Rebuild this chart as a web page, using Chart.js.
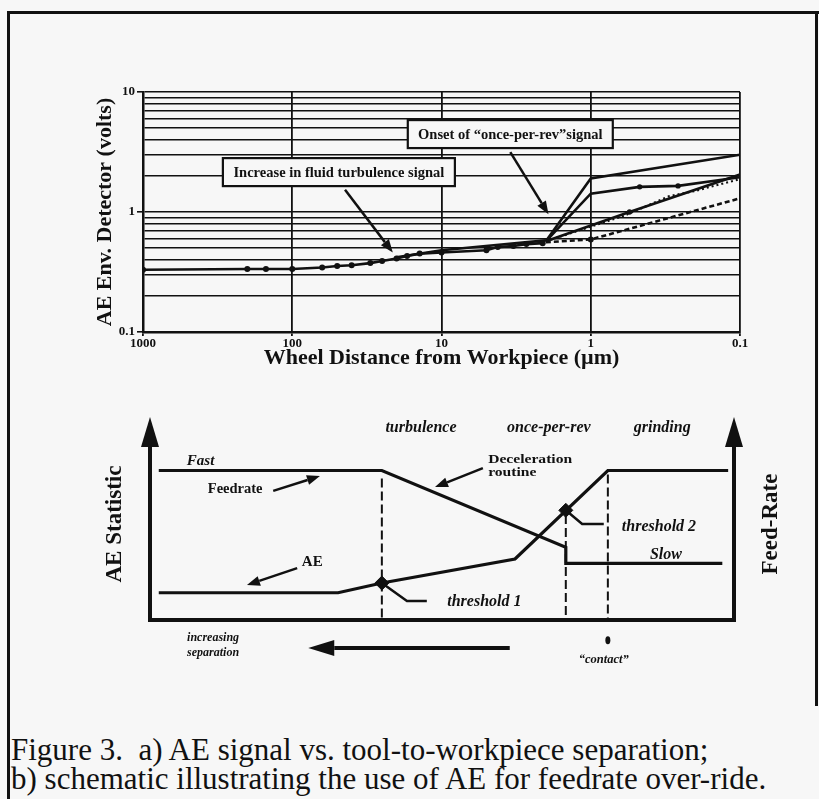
<!DOCTYPE html>
<html>
<head>
<meta charset="utf-8">
<script src="https://cdn.jsdelivr.net/npm/chart.js@4.4.1/dist/chart.umd.min.js"></script>
<style>
  html, body { margin: 0; padding: 0; background: #f7f7f7; }
  #page { position: relative; width: 819px; height: 799px; overflow: hidden; }
  #frame { position: absolute; left: 7px; top: 11px; width: 820px; height: 800px;
           border-left: 3px solid #111; border-top: 3px solid #111; }
  #frameRight { position: absolute; left: 815px; top: 11px; width: 3px; height: 695px; background: #111; }
  #topChart { position: absolute; left: 0; top: 0; }
  #bottomChart { position: absolute; left: 0; top: 400px; }
  #caption { position: absolute; left: 11px; top: 735px; font-family: 'Liberation Serif', serif;
             font-size: 31px; line-height: 29px; color: #111; white-space: nowrap; }
</style>
</head>
<body>
<div id="page">
  <div id="frame"></div>
  <div id="frameRight"></div>
  <canvas id="topChart" width="819" height="380"></canvas>
  <canvas id="bottomChart" width="819" height="300"></canvas>
  <div id="caption">Figure 3.&nbsp; a) AE signal vs. tool-to-workpiece separation;<br>b) schematic illustrating the use of AE for feedrate over-ride.</div>
</div>
<script>
// ---- a) AE signal vs. wheel distance (log-log) ----
const xTicks = [1000, 100, 10, 1, 0.1];
const xTickLabels = ['1000', '100', '10', '1', '0.1'];
const yTicks = [0.1, 0.2, 0.3, 0.4, 0.5, 0.6, 0.7, 0.8, 0.9, 1, 2, 3, 4, 5, 6, 7, 8, 9, 10];
const yMajor = [10, 1, 0.1];
const yTickLabels = ['10', '1', '0.1'];

// approach, before contact (measured points)
const approachDist  = [1000, 200, 150, 100, 63, 50, 40, 30, 25, 20, 17, 14, 10, 5, 4.2, 3.3, 2.7, 2.1];
const approachVolts = [0.33, 0.335, 0.335, 0.335, 0.345, 0.355, 0.36, 0.375, 0.39, 0.41, 0.43, 0.45, 0.46, 0.48, 0.51, 0.52, 0.54, 0.55];
const upperDist  = [20, 10, 2];
const upperVolts = [0.42, 0.48, 0.58];
// runs after onset of once-per-rev signal
const runADist = [2, 1, 0.1];
const runAVolts = [0.57, 1.9, 3.0];
const runBDist = [2, 1, 0.47, 0.26, 0.1];
const runBVolts = [0.57, 1.42, 1.62, 1.65, 1.95];
const runCDist = [2, 0.55, 0.1];
const runCVolts = [0.57, 1.0, 2.05];
const runDDist = [2, 1, 0.1];
const runDVolts = [0.56, 0.59, 1.3];
const runEDist = [2, 0.6, 0.3, 0.2, 0.1];
const runEVolts = [0.57, 0.93, 1.35, 1.5, 1.88];

// ---- b) schematic ----
const feedrateX = [1.5, 39.7, 71.2, 71.2, 98];
const feedrateY = [74, 74, 36, 28, 28];
const aeX = [1.5, 32.2, 39.7, 62.5, 78.4, 99];
const aeY = [13.5, 13.5, 18.3, 30.2, 74, 74];
const eventX = [39.7, 71.2, 78.4];      // turbulence, once-per-rev, contact
const eventTop = [70, 52, 72];
const thresholdX = [39.7, 71.2];
const thresholdY = [18.3, 54.3];
const regionNames = ['turbulence', 'once-per-rev', 'grinding'];
const regionX = [46.4, 68.3, 87.7];

const ink = '#111';
const serif = "'Liberation Serif', 'DejaVu Serif', serif";
const pts = (xs, ys) => xs.map((x, i) => ({x: x, y: ys[i]}));

function arrow(ctx, x1, y1, x2, y2, w, len, half) {
  const a = Math.atan2(y2 - y1, x2 - x1);
  const bx = x2 - Math.cos(a) * len, by = y2 - Math.sin(a) * len;
  ctx.lineWidth = w;
  ctx.beginPath(); ctx.moveTo(x1, y1); ctx.lineTo(bx, by); ctx.stroke();
  ctx.beginPath();
  ctx.moveTo(x2, y2);
  ctx.lineTo(bx + Math.sin(a) * half, by - Math.cos(a) * half);
  ctx.lineTo(bx - Math.sin(a) * half, by + Math.cos(a) * half);
  ctx.closePath(); ctx.fill();
}

const topNotes = {
  id: 'topNotes',
  afterDraw(chart) {
    const {ctx, scales: {x, y}} = chart;
    const boxes = [
      {text: 'Increase in fluid turbulence signal', cx: 48.7, cy: 2.15, w: 232, tail: [44.3, 1.53], tip: [21.2, 0.46]},
      {text: 'Onset of \u201conce-per-rev\u201dsignal', cx: 3.46, cy: 4.46, w: 205, tail: [3.46, 3.16], tip: [1.92, 0.96]}
    ];
    ctx.save();
    ctx.strokeStyle = ink; ctx.fillStyle = ink;
    boxes.forEach(b => {
      const px = x.getPixelForValue(b.cx), py = y.getPixelForValue(b.cy);
      ctx.fillStyle = '#f7f7f7';
      ctx.fillRect(px - b.w / 2, py - 14, b.w, 28);
      ctx.lineWidth = 2.2;
      ctx.strokeRect(px - b.w / 2, py - 14, b.w, 28);
      ctx.fillStyle = ink;
      ctx.font = 'bold 14.5px ' + serif;
      ctx.textAlign = 'center'; ctx.textBaseline = 'middle';
      ctx.fillText(b.text, px, py + 1);
      arrow(ctx, x.getPixelForValue(b.tail[0]), y.getPixelForValue(b.tail[1]),
            x.getPixelForValue(b.tip[0]), y.getPixelForValue(b.tip[1]), 2.5, 13, 5);
    });
    ctx.restore();
  }
};

const solid = {showLine: true, borderColor: ink, borderWidth: 2.6, pointRadius: 0, pointBackgroundColor: ink, pointBorderWidth: 0};

new Chart(document.getElementById('topChart'), {
  type: 'scatter',
  data: {
    datasets: [
      Object.assign({}, solid, {data: pts(approachDist, approachVolts), pointRadius: 3}),
      Object.assign({}, solid, {data: pts(upperDist, upperVolts)}),
      Object.assign({}, solid, {data: pts(runADist, runAVolts)}),
      Object.assign({}, solid, {data: pts(runBDist, runBVolts), pointRadius: [0, 0, 2.7, 2.7, 0]}),
      Object.assign({}, solid, {data: pts(runCDist, runCVolts), pointRadius: [0, 2.7, 0]}),
      Object.assign({}, solid, {data: pts(runDDist, runDVolts), borderDash: [5, 3], pointRadius: [0, 3, 0]}),
      Object.assign({}, solid, {data: pts(runEDist, runEVolts), borderDash: [2, 3], borderWidth: 2.2})
    ]
  },
  options: {
    responsive: false, animation: false, devicePixelRatio: 1,
    layout: {padding: {left: 90, top: 92, right: 79, bottom: 0}},
    plugins: {legend: {display: false}, tooltip: {enabled: false}},
    scales: {
      x: {
        type: 'logarithmic', reverse: true, min: 0.1, max: 1000,
        afterBuildTicks: s => { s.ticks = xTicks.map(v => ({value: v})); },
        afterFit: s => { s.height = 48; },
        ticks: {
          autoSkip: false, maxRotation: 0, padding: 0, color: ink,
          font: {family: serif, size: 13, weight: 'bold'},
          callback: v => { const i = xTicks.indexOf(v); return i >= 0 ? xTickLabels[i] : ''; }
        },
        grid: {color: ink, lineWidth: 1.8, tickLength: 4, tickColor: ink},
        border: {color: ink, width: 2.5},
        title: {display: true, text: 'Wheel Distance from Workpiece (\u00b5m)', color: ink,
                font: {family: serif, size: 22, weight: 'bold'}, padding: {top: 0, bottom: 8}}
      },
      y: {
        type: 'logarithmic', min: 0.1, max: 10,
        afterBuildTicks: s => { s.ticks = yTicks.map(v => ({value: v})); },
        afterFit: s => { s.width = 53; },
        ticks: {
          autoSkip: false, padding: 2, color: ink,
          font: {family: serif, size: 13, weight: 'bold'},
          callback: v => { const i = yMajor.indexOf(v); return i >= 0 ? yTickLabels[i] : ''; }
        },
        grid: {color: ink, lineWidth: 1.6, tickLength: 6,
               tickColor: c => yMajor.indexOf(c.tick.value) >= 0 ? ink : 'rgba(0,0,0,0)'},
        border: {color: ink, width: 2.5},
        title: {display: true, text: 'AE Env. Detector (volts)', color: ink,
                font: {family: serif, size: 22, weight: 'bold'}, padding: {top: 2, bottom: 0}}
      }
    }
  },
  plugins: [topNotes]
});

// ---- schematic annotations ----
const schematicNotes = {
  id: 'schematicNotes',
  afterDraw(chart) {
    const {ctx, scales: {x, y}} = chart;
    const X = v => x.getPixelForValue(v), Y = v => y.getPixelForValue(v);
    ctx.save();
    ctx.strokeStyle = ink; ctx.fillStyle = ink; ctx.lineCap = 'butt';

    // axes with arrow heads
    ctx.lineWidth = 4;
    ctx.beginPath(); ctx.moveTo(X(0) - 2, Y(0)); ctx.lineTo(X(100) + 2, Y(0)); ctx.stroke();
    arrow(ctx, X(0), Y(0) + 2, X(0), Y(100.5), 4, 30, 9);
    arrow(ctx, X(100), Y(0) + 2, X(100), Y(100.5), 4, 30, 9);

    // pointer arrows
    arrow(ctx, X(21.1), Y(63.9), X(29.1), Y(71.3), 2.5, 13, 5);
    arrow(ctx, X(57.0), Y(75.2), X(48.8), Y(65.8), 2.5, 13, 5);
    arrow(ctx, X(25.2), Y(25.7), X(16.6), Y(17.3), 2.5, 13, 5);
    arrow(ctx, X(61.6), Y(-13.9), X(27.1), Y(-13.9), 4, 26, 8);

    // threshold leaders
    ctx.lineWidth = 2.5;
    ctx.beginPath(); ctx.moveTo(X(thresholdX[0]), Y(thresholdY[0])); ctx.lineTo(X(44.0), Y(9.4)); ctx.lineTo(X(47.4), Y(9.4)); ctx.stroke();
    ctx.beginPath(); ctx.moveTo(X(thresholdX[1]), Y(thresholdY[1])); ctx.lineTo(X(74.0), Y(47.5)); ctx.lineTo(X(77.7), Y(47.5)); ctx.stroke();

    // contact dot
    ctx.beginPath(); ctx.ellipse(X(eventX[2]), Y(-10), 2.5, 4, 0, 0, Math.PI * 2); ctx.fill();

    // text, optionally stretched sideways like the wide scanned face
    const txt = (s, xv, yv, font, align, sx) => {
      sx = sx || 1;
      ctx.save();
      ctx.font = font; ctx.textAlign = align || 'left'; ctx.textBaseline = 'middle';
      ctx.translate(X(xv), Y(yv));
      ctx.scale(sx, 1);
      ctx.fillText(s, 0, 0);
      ctx.restore();
    };
    const bi = sz => 'italic bold ' + sz + 'px ' + serif;
    const b = sz => 'bold ' + sz + 'px ' + serif;
    regionNames.forEach((n, i) => txt(n, regionX[i], 95, bi(16), 'center'));
    txt('Fast', 6.3, 78.7, bi(15));
    txt('Feedrate', 9.9, 64.9, b(14.5));
    txt('Deceleration', 57.9, 79.4, b(13), 'left', 1.2);
    txt('routine', 57.9, 73.0, b(13), 'left', 1.2);
    txt('AE', 26.0, 28.7, b(15));
    txt('threshold 1', 50.9, 8.9, bi(16));
    txt('threshold 2', 80.8, 46.0, bi(16));
    txt('Slow', 85.6, 32.2, bi(16));
    txt('increasing', 10.8, -8.9, bi(12), 'center');
    txt('separation', 10.8, -16.3, bi(12), 'center');
    txt('\u201ccontact\u201d', 77.7, -19.8, bi(12.5), 'center');

    ctx.font = b(23); ctx.textAlign = 'center'; ctx.textBaseline = 'middle';
    [['AE Statistic', -6.0], ['Feed-Rate', 106.3]].forEach(([s, xv]) => {
      ctx.save();
      ctx.translate(X(xv), Y(47.5));
      ctx.rotate(-Math.PI / 2);
      ctx.fillText(s, 0, 0);
      ctx.restore();
    });
    ctx.restore();
  }
};

const eventSets = eventX.map((ex, i) => ({
  data: pts([ex, ex], [eventTop[i], 1]), showLine: true, borderColor: ink, borderWidth: 2,
  borderDash: [9, 4], pointRadius: 0
}));

new Chart(document.getElementById('bottomChart'), {
  type: 'scatter',
  data: {
    datasets: [
      {data: pts(feedrateX, feedrateY), showLine: true, borderColor: ink, borderWidth: 3.2, pointRadius: 0},
      {data: pts(aeX, aeY), showLine: true, borderColor: ink, borderWidth: 3.2, pointRadius: 0},
      ...eventSets,
      {data: pts(thresholdX, thresholdY), showLine: false, pointStyle: 'rectRot', pointRadius: 7,
       backgroundColor: ink, borderColor: ink, borderWidth: 1}
    ]
  },
  options: {
    responsive: false, animation: false, devicePixelRatio: 1,
    layout: {padding: {left: 150, right: 85, top: 18, bottom: 80}},
    plugins: {legend: {display: false}, tooltip: {enabled: false}},
    scales: {
      x: {type: 'linear', min: 0, max: 100, display: false},
      y: {type: 'linear', min: 0, max: 100, display: false}
    }
  },
  plugins: [schematicNotes]
});
</script>
</body>
</html>
